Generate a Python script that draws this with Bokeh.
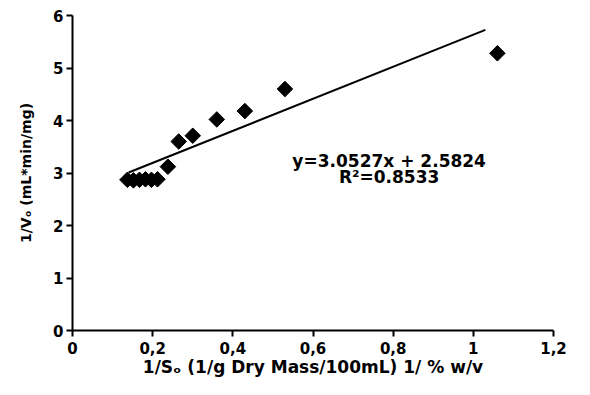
from bokeh.plotting import figure
from bokeh.models import FixedTicker, Label
from bokeh.embed import file_html
from bokeh.resources import INLINE
import math

# Data
x_vals = [0.137, 0.152, 0.167, 0.182, 0.197, 0.212, 0.238, 0.265, 0.30, 0.36, 0.43, 0.53, 1.06]
y_vals = [2.87, 2.86, 2.87, 2.88, 2.87, 2.88, 3.12, 3.60, 3.71, 4.02, 4.18, 4.60, 5.28]
slope = 3.0527
intercept = 2.5824
r_squared = 0.8533
trend_x = [0.14, 1.03]
x_ticks = [0, 0.2, 0.4, 0.6, 0.8, 1.0, 1.2]
x_tick_labels = ["0", "0,2", "0,4", "0,6", "0,8", "1", "1,2"]
y_ticks = [0, 1, 2, 3, 4, 5, 6]

FONT = "DejaVu Sans"

p = figure(width=590, height=395, x_range=(0, 1.2), y_range=(0, 6),
           output_backend="svg", toolbar_location=None,
           min_border_left=72, min_border_right=37, min_border_top=15, min_border_bottom=65)
p.outline_line_color = None
p.grid.visible = False
p.background_fill_color = "white"
p.border_fill_color = "white"

trend_y = [slope * x + intercept for x in trend_x]
p.line(trend_x, trend_y, line_color="black", line_width=2)
p.scatter(x_vals, y_vals, marker="square", size=11, angle=math.pi / 4,
          fill_color="black", line_color="black")

p.xaxis.ticker = FixedTicker(ticks=x_ticks)
p.xaxis.major_label_overrides = {t: l for t, l in zip(x_ticks, x_tick_labels)}
p.yaxis.ticker = FixedTicker(ticks=y_ticks)

for ax in (p.xaxis, p.yaxis):
    ax.axis_line_width = 2
    ax.major_tick_line_width = 2
    ax.major_tick_in = 0
    ax.major_tick_out = 6
    ax.minor_tick_line_color = None
    ax.major_label_text_font = FONT
    ax.major_label_text_font_style = "bold"
    ax.major_label_text_font_size = "15px"
    ax.major_label_text_color = "black"
    ax.axis_label_text_font = FONT
    ax.axis_label_text_font_style = "bold"
    ax.axis_label_text_color = "black"
    ax.axis_line_color = "black"
    ax.major_tick_line_color = "black"

p.xaxis.axis_label = "1/S\u2092 (1/g Dry Mass/100mL) 1/ % w/v"
p.xaxis.axis_label_text_font_size = "17px"
p.xaxis.axis_label_standoff = 0
p.xaxis.major_label_standoff = 5
p.yaxis.axis_label = "1/V\u2092 (mL*min/mg)"
p.yaxis.axis_label_text_font_size = "14px"
p.yaxis.axis_label_standoff = 16
p.yaxis.major_label_standoff = 3

eq1 = Label(x=0.79, y=3.22, text="y=%.4fx + %.4f" % (slope, intercept),
            text_align="center", text_baseline="alphabetic", text_color="black",
            text_font=FONT, text_font_style="bold", text_font_size="17px")
eq2 = Label(x=0.79, y=2.93, text="R\u00b2=%.4f" % r_squared,
            text_align="center", text_baseline="alphabetic", text_color="black",
            text_font=FONT, text_font_style="bold", text_font_size="17px")
p.add_layout(eq1)
p.add_layout(eq2)

open("out.html", "w").write(file_html(p, INLINE))
